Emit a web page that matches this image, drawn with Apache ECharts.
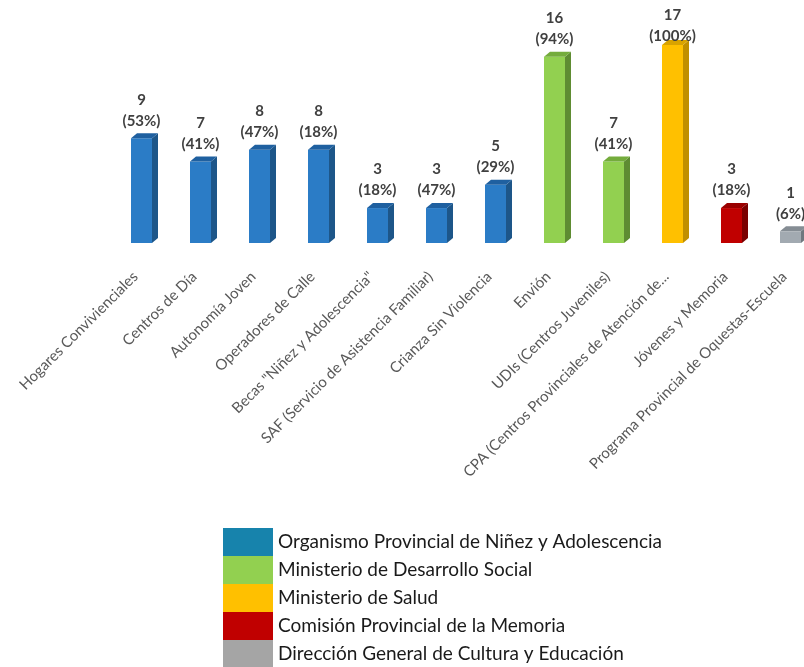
<!DOCTYPE html>
<html>
<head>
<meta charset="utf-8">
<script src="https://cdn.jsdelivr.net/npm/echarts@6/dist/echarts.min.js"></script>
<style>
  html, body { margin: 0; padding: 0; background: #fff; }
  #chart { width: 804px; height: 667px; }
</style>
</head>
<body>
<div id="chart"></div>
<script>
const categories = [
  'Hogares Convivienciales',
  'Centros de Día',
  'Autonomía Joven',
  'Operadores de Calle',
  'Becas "Niñez y Adolescencia"',
  'SAF (Servicio de Asistencia Familiar)',
  'Crianza Sin Violencia',
  'Envión',
  'UDIs (Centros Juveniles)',
  'CPA (Centros Provinciales de Atención de...',
  'Jóvenes y Memoria',
  'Programa Provincial de Oquestas-Escuela'
]
const values = [9, 7, 8, 8, 3, 3, 5, 16, 7, 17, 3, 1]
const percents = [53, 41, 47, 18, 18, 47, 29, 94, 41, 100, 18, 6]
const organisms = [
  'Organismo Provincial de Niñez y Adolescencia',
  'Ministerio de Desarrollo Social',
  'Ministerio de Salud',
  'Comisión Provincial de la Memoria',
  'Dirección General de Cultura y Educación'
]
const organismOf = [0, 0, 0, 0, 0, 0, 0, 1, 1, 2, 3, 4]

// front / side / top shades for each organism
const shades = [
  { front: '#2B7CC6', side: '#1D5689', top: '#1F60A0', legend: '#1783AC' },
  { front: '#92D050', side: '#5E8C32', top: '#74AC3C', legend: '#92D050' },
  { front: '#FFC000', side: '#C08F00', top: '#D9A300', legend: '#FFC000' },
  { front: '#C00000', side: '#7A0000', top: '#9A0000', legend: '#C00000' },
  { front: '#A2AAB1', side: '#6F777E', top: '#858D94', legend: '#A5A5A5' }
]

const chart = echarts.init(document.getElementById('chart'))

const renderBar = (k) => (params, api) => {
  const idx = api.value(0)
  const v = api.value(1)
  const pct = api.value(2)
  const base = api.coord([idx, 0])
  const top = api.coord([idx, v])
  const bw = 21, dx = 6, dy = 5
  const x0 = base[0] - 3 - bw / 2
  const s = shades[k]
  // labels stay inside the plot area, like the original
  const labelY = Math.max(top[1] - 7, params.coordSys.y + 2)
  return {
    type: 'group',
    children: [
      {
        type: 'rect',
        shape: { x: x0, y: top[1], width: bw, height: base[1] - top[1] },
        style: { fill: s.front }
      },
      {
        type: 'polygon',
        shape: { points: [[x0 + bw, top[1]], [x0 + bw + dx, top[1] - dy], [x0 + bw + dx, base[1] - dy], [x0 + bw, base[1]]] },
        style: { fill: s.side }
      },
      {
        type: 'polygon',
        shape: { points: [[x0, top[1]], [x0 + dx, top[1] - dy], [x0 + bw + dx, top[1] - dy], [x0 + bw, top[1]]] },
        style: { fill: s.top }
      },
      {
        type: 'text',
        style: {
          text: v + '\n(' + pct + '%)',
          x: x0 + bw / 2,
          y: labelY,
          align: 'center',
          verticalAlign: 'bottom',
          font: 'bold 15px Lato',
          lineHeight: 21,
          fill: '#404040'
        }
      }
    ]
  }
}

const series = organisms.map((name, k) => ({
  name,
  type: 'custom',
  renderItem: renderBar(k),
  itemStyle: { color: shades[k].legend },
  encode: { x: 0, y: 1 },
  data: values
    .map((v, i) => [i, v, percents[i]])
    .filter((d) => organismOf[d[0]] === k)
}))

const option = {
  animation: false,
  grid: { left: 115, width: 708, top: 45, bottom: 424, outerBoundsMode: 'none', containLabel: false },
  xAxis: {
    type: 'category',
    data: categories,
    axisLine: { show: false },
    axisTick: { show: false },
    axisLabel: {
      interval: 0,
      rotate: 45,
      margin: 22,
      padding: [0, 13, 0, 0],
      color: '#595959',
      fontSize: 15,
      fontFamily: 'Lato'
    }
  },
  yAxis: {
    type: 'value',
    min: 0,
    max: 17,
    show: false
  },
  legend: {
    orient: 'vertical',
    left: 218,
    top: 523,
    height: 200,
    icon: 'rect',
    itemWidth: 50,
    itemHeight: 28,
    itemGap: 0,
    selectedMode: false,
    textStyle: { fontSize: 19, color: '#1a1a1a', fontFamily: 'Lato' },
    data: organisms.map((name, k) => ({ name, itemStyle: { color: shades[k].legend } }))
  },
  series
}

chart.setOption(option)
</script>
</body>
</html>
